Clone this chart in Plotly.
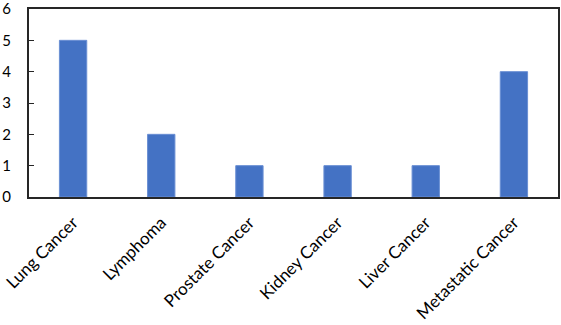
import plotly.graph_objects as go

categories = ["Lung Cancer", "Lymphoma", "Prostate Cancer", "Kidney Cancer", "Liver Cancer", "Metastatic Cancer"]
counts = [5, 2, 1, 1, 1, 4]
y_ticks = [0, 1, 2, 3, 4, 5, 6]

fig = go.Figure(go.Bar(x=categories, y=counts, marker=dict(color="#4472C4", line=dict(color="#6a8fd3", width=1))))

fig.update_layout(
    width=561, height=325,
    margin=dict(l=29, r=3, t=9, b=128),
    paper_bgcolor="white", plot_bgcolor="white",
    bargap=0.69,
    showlegend=False,
    font=dict(family="Lato, Open Sans, sans-serif", color="#000000"),
)
fig.update_xaxes(
    showline=True, mirror=True, linecolor="#262626", linewidth=2,
    tickangle=-45, tickfont=dict(size=17), ticks="", showgrid=False,
    automargin=False, ticklabeloverflow="allow", ticklabelstandoff=7,
)
fig.update_yaxes(
    range=[0, 6], tickvals=y_ticks, showline=True, mirror=True, linecolor="#262626", linewidth=2,
    ticks="inside", ticklen=5, tickcolor="#262626", tickfont=dict(size=15), showgrid=False, zeroline=False,
    ticklabelstandoff=13, automargin=False, ticklabeloverflow="allow",
)

fig.write_html("out.html", config={"displayModeBar": False},
               post_script="document.body.style.margin='0';")
